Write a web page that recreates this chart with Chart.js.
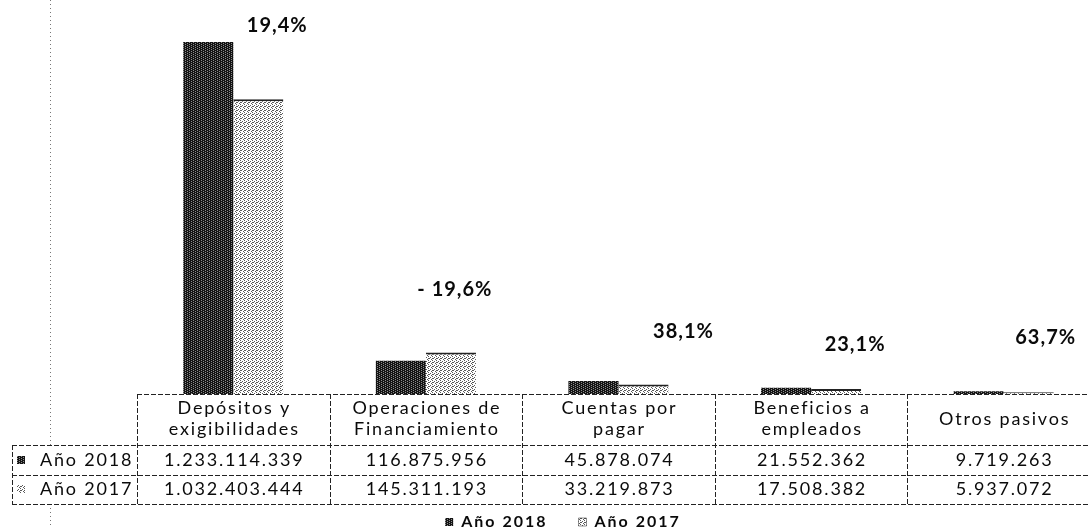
<!DOCTYPE html>
<html lang="es">
<head>
<meta charset="utf-8">
<title>Pasivos 2018 - 2017</title>
<script src="https://cdn.jsdelivr.net/npm/chart.js@4.4.1/dist/chart.umd.min.js"></script>
<style>
  html, body { margin: 0; padding: 0; background: #fff; overflow: hidden; }
  #wrap { position: relative; width: 1126px; height: 540px; }
</style>
</head>
<body>
<div id="wrap"><canvas id="pasivosChart"></canvas></div>
<script>
const categories = [['Depósitos y', 'exigibilidades'], ['Operaciones de', 'Financiamiento'], ['Cuentas por', 'pagar'], ['Beneficios a', 'empleados'], ['Otros pasivos']];
const seriesNames = ['Año 2018', 'Año 2017'];
const values2018 = [1233114339, 116875956, 45878074, 21552362, 9719263];
const values2017 = [1032403444, 145311193, 33219873, 17508382, 5937072];
const variations = ['19,4%', '- 19,6%', '38,1%', '23,1%', '63,7%'];

const FONT = 'Lato, "Open Sans", sans-serif';
const INK = '#0a0a0a';

// Function to build a small dotted fill, like the scanned bars
function makePattern(bg, dot, cells) {
    const c = document.createElement('canvas');
    c.width = 4; c.height = 4;
    const g = c.getContext('2d');
    g.fillStyle = bg;
    g.fillRect(0, 0, 4, 4);
    g.fillStyle = dot;
    cells.forEach(([px, py]) => g.fillRect(px, py, 1, 1));
    return g.createPattern(c, 'repeat');
}

const darkFill = makePattern('#141414', '#8c8c8c', [[1, 0], [1, 2], [3, 1], [3, 3]]);
const lightFill = makePattern('#ffffff', '#5a5a5a', [[0, 0], [2, 1], [1, 2], [3, 3], [0, 2]]);

// Function to format numbers with dots as thousand separators
function fmt(v) {
    return String(v).replace(/\B(?=(\d{3})+(?!\d))/g, '.');
}

function line(ctx, x1, y1, x2, y2) {
    ctx.beginPath();
    ctx.moveTo(x1, y1);
    ctx.lineTo(x2, y2);
    ctx.stroke();
}

// Wider letter spacing for the legend, the scan text is spread out
const spacingPlugin = {
    id: 'spacing',
    beforeLayout(chart) { chart.ctx.letterSpacing = '2px'; },
    beforeDraw(chart) { chart.ctx.letterSpacing = '2px'; }
};

// Draws the data table under the bars
const tablePlugin = {
    id: 'dataTable',
    afterDraw(chart) {
        const { ctx, chartArea, scales: { x } } = chart;
        const colW = x.width / categories.length;
        const top = chartArea.bottom;
        const headB = top + 51, row1B = headB + 30, row2B = row1B + 29;
        const labelL = 12;

        ctx.save();
        // faint page margin line of the scan
        ctx.strokeStyle = '#777';
        ctx.lineWidth = 1;
        ctx.setLineDash([1, 3]);
        line(ctx, 50.5, 0, 50.5, headB);
        line(ctx, 50.5, row2B, 50.5, chart.height);

        ctx.strokeStyle = '#222';
        ctx.setLineDash([5, 2]);
        // horizontal lines
        line(ctx, x.left, top + 0.5, chart.width, top + 0.5);
        line(ctx, labelL, headB + 0.5, chart.width, headB + 0.5);
        line(ctx, labelL, row1B + 0.5, chart.width, row1B + 0.5);
        line(ctx, labelL, row2B + 0.5, chart.width, row2B + 0.5);
        // vertical lines
        line(ctx, labelL + 0.5, headB, labelL + 0.5, row2B);
        for (let i = 0; i <= categories.length; i++) {
            const vx = Math.round(x.left + i * colW) + 0.5;
            line(ctx, vx, top, vx, row2B);
        }
        ctx.setLineDash([]);

        ctx.fillStyle = INK;
        ctx.textAlign = 'center';
        ctx.textBaseline = 'middle';
        ctx.font = '18px ' + FONT;
        ctx.letterSpacing = '1.8px';
        categories.forEach((lines, i) => {
            const cx = x.getPixelForValue(i) + 1;
            if (lines.length === 1) {
                ctx.fillText(lines[0], cx, top + 25);
            } else {
                ctx.fillText(lines[0], cx, top + 14);
                ctx.fillText(lines[1], cx, top + 35);
            }
            ctx.fillText(fmt(values2018[i]), cx, headB + 15);
            ctx.fillText(fmt(values2017[i]), cx, row1B + 14);
        });

        // row labels with legend keys
        ctx.textAlign = 'left';
        [[seriesNames[0], darkFill, headB + 15], [seriesNames[1], lightFill, row1B + 14]].forEach(([name, fill, cy]) => {
            ctx.fillStyle = fill;
            ctx.fillRect(17, cy - 4, 8, 8);
            ctx.fillStyle = INK;
            ctx.fillText(name, 40, cy);
        });
        ctx.restore();
    }
};

// Writes the variation percentages over each group
const variationPlugin = {
    id: 'variations',
    afterDatasetsDraw(chart) {
        const { ctx, scales: { x, y } } = chart;
        const dx = [44, 29, 65, 44, 42];
        const dy = [16, 63, 49, 43, 54];
        ctx.save();
        ctx.fillStyle = INK;
        ctx.font = 'bold 20px ' + FONT;
        ctx.textAlign = 'center';
        ctx.textBaseline = 'middle';
        ctx.letterSpacing = '1px';
        variations.forEach((txt, i) => {
            const topY = y.getPixelForValue(Math.max(values2018[i], values2017[i]));
            ctx.fillText(txt, x.getPixelForValue(i) + dx[i], topY - dy[i]);
        });
        ctx.restore();
    }
};

const ctx = document.getElementById('pasivosChart').getContext('2d');
new Chart(ctx, {
    type: 'bar',
    data: {
        labels: categories,
        datasets: [
            {
                label: seriesNames[0],
                data: values2018,
                backgroundColor: darkFill,
                borderWidth: 0
            },
            {
                label: seriesNames[1],
                data: values2017,
                backgroundColor: lightFill,
                borderColor: '#222',
                borderWidth: { top: 2, left: 0, right: 0, bottom: 0 },
                borderSkipped: 'bottom'
            }
        ]
    },
    options: {
        responsive: true,
        maintainAspectRatio: false,
        animation: false,
        categoryPercentage: 0.52,
        barPercentage: 1,
        layout: { padding: 0 },
        plugins: {
            legend: {
                position: 'bottom',
                labels: {
                    boxWidth: 8,
                    boxHeight: 8,
                    padding: 31,
                    color: INK,
                    font: { family: FONT, size: 16, weight: 'bold' }
                }
            },
            tooltip: { enabled: false }
        },
        scales: {
            x: {
                ticks: { display: false },
                grid: { display: false },
                border: { display: false },
                afterFit: s => { s.height = 89; }
            },
            y: {
                min: 0,
                max: 1380000000,
                ticks: { display: false },
                grid: { display: false },
                border: { display: false },
                afterFit: s => { s.width = 137; }
            },
            yRight: {
                type: 'linear',
                position: 'right',
                ticks: { display: false },
                grid: { display: false },
                border: { display: false },
                afterFit: s => { s.width = 26; }
            }
        }
    },
    plugins: [spacingPlugin, tablePlugin, variationPlugin]
});
</script>
</body>
</html>
